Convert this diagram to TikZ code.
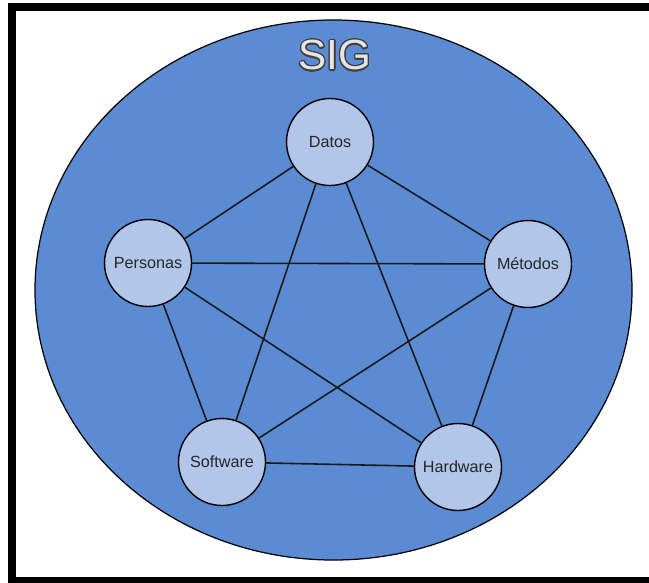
\documentclass[tikz,border=0pt]{standalone}
\usepackage{fontspec}
\setmainfont{Liberation Sans}
\usepackage[copies]{contour}
\contourlength{0.7pt}
\contournumber{24}
\definecolor{sigblue}{HTML}{5B8BD3}
\definecolor{nodeblue}{HTML}{B1C6E9}

\begin{document}
\begin{tikzpicture}[x=0.2mm, y=-0.2mm,
		comp/.style={circle, draw=black, line width=0.8pt, fill=nodeblue, minimum size=17.4mm, inner sep=0pt, font=\fontsize{9.2}{11}\selectfont, text=black!85},
		link/.style={line width=0.9pt, black!90}]
		\useasboundingbox (0,0) rectangle (649,582);
		\clip (0,0) rectangle (649,582);
		\fill[white] (0,0) rectangle (649,582);
		% frame
		\draw[line width=1.6mm, black] (660,581) -- (12,581) -- (12,7) -- (660,7);
		% big ellipse
		\draw[fill=sigblue, line width=0.7pt] (333.5,290) ellipse [x radius=59.7mm, y radius=54mm];
		\node (sig) at (335,56) {\fontsize{24}{28}\selectfont\contour{black!75}{\textcolor{black!10}{SIG}}};
		
		\node[comp] (datos) at (330,142) {Datos};
		\node[comp] (personas) at (148,263) {Personas};
		\node[comp] (metodos) at (528,264) {Métodos};
		\node[comp] (software) at (222,462) {Software};
		\node[comp] (hardware) at (458,467) {Hardware};
		
		\draw[link] (datos) -- (personas);
		\draw[link] (datos) -- (metodos);
		\draw[link] (datos) -- (software);
		\draw[link] (datos) -- (hardware);
		\draw[link] (personas) -- (metodos);
		\draw[link] (personas) -- (software);
		\draw[link] (personas) -- (hardware);
		\draw[link] (metodos) -- (software);
		\draw[link] (metodos) -- (hardware);
		\draw[link] (software) -- (hardware);
	\end{tikzpicture}
\end{document}
